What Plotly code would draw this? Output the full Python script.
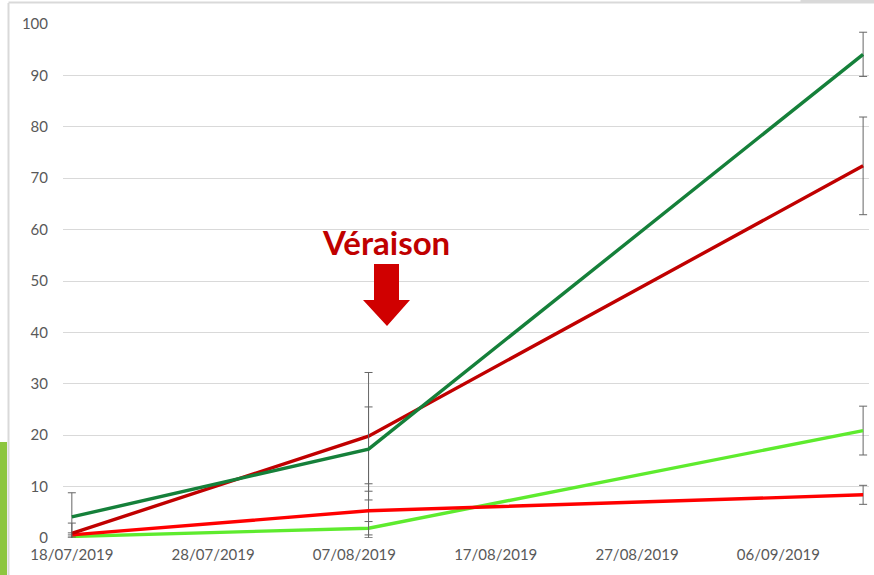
import plotly.graph_objects as go

W, H = 874, 575

dates = ["2019-07-18", "2019-08-08", "2019-09-12"]

dark_green = [4.1, 17.3, 94.1]
dark_green_err = [4.7, 8.2, 4.3]

dark_red = [0.9, 19.8, 72.4]
dark_red_err = [2.0, 12.4, 9.5]

light_green = [0.3, 1.9, 20.9]
light_green_err = [0.3, 1.3, 4.75]

red = [0.6, 5.3, 8.4]
red_err = [0.4, 5.25, 1.85]

tick_dates = ["2019-07-18", "2019-07-28", "2019-08-07", "2019-08-17", "2019-08-27", "2019-09-06"]
tick_text = ["18/07/2019", "28/07/2019", "07/08/2019", "17/08/2019", "27/08/2019", "06/09/2019"]


def px(x):
    return x / W


def py(y):
    return 1 - y / H


fig = go.Figure()

series = [
    (light_green, light_green_err, "#5EEB2E"),
    (red, red_err, "#FF0000"),
    (dark_red, dark_red_err, "#C00000"),
    (dark_green, dark_green_err, "#15803A"),
]
for vals, err, col in series:
    fig.add_trace(go.Scatter(
        x=dates, y=vals, mode="lines",
        line=dict(color=col, width=3.4),
        error_y=dict(type="data", array=err, visible=True,
                     color="#666666", thickness=1, width=4),
        showlegend=False,
    ))

# slide decorations: grey frame + green side bar
shapes = [
    dict(type="rect", xref="paper", yref="paper", x0=0, x1=px(7), y0=0, y1=py(442),
         fillcolor="#8DC63F", line_width=0, layer="below"),
    dict(type="line", xref="paper", yref="paper", x0=px(8.5), x1=px(8.5), y0=0, y1=py(3),
         line=dict(color="#D9D9D9", width=2)),
    dict(type="line", xref="paper", yref="paper", x0=px(8.5), x1=px(801), y0=py(2.5), y1=py(2.5),
         line=dict(color="#D9D9D9", width=2)),
    dict(type="line", xref="paper", yref="paper", x0=px(801), x1=px(801), y0=py(0), y1=py(3),
         line=dict(color="#D9D9D9", width=1)),
    dict(type="rect", xref="paper", yref="paper", x0=px(801), x1=1, y0=py(3.5), y1=1,
         fillcolor="#D9D9D9", line_width=0),
    # Véraison arrow
    dict(type="path", xref="paper", yref="paper",
         path=(f"M {px(374)} {py(264)} L {px(399)} {py(264)} L {px(399)} {py(300)} "
               f"L {px(410)} {py(300)} L {px(387)} {py(326)} L {px(363)} {py(300)} "
               f"L {px(374)} {py(300)} Z"),
         fillcolor="#D00000", line_width=0),
]

fig.update_layout(
    width=W, height=H,
    margin=dict(l=0, r=0, t=0, b=0),
    paper_bgcolor="white", plot_bgcolor="white",
    font=dict(family="Lato, 'Open Sans', sans-serif", size=15, color="#595959"),
    shapes=shapes,
    annotations=[dict(
        xref="paper", yref="paper", x=px(386), y=py(242),
        text="<b>Véraison</b>", showarrow=False,
        font=dict(size=33, color="#C00000", family="Lato, sans-serif"),
        xanchor="center", yanchor="middle",
    )],
    xaxis=dict(
        domain=[px(63), px(869)],
        range=["2019-07-17 09:00", "2019-09-12 10:00"],
        tickvals=tick_dates, ticktext=tick_text,
        showgrid=False, zeroline=False, showline=False,
        ticks="", ticklabelstandoff=6, automargin=False,
    ),
    yaxis=dict(
        domain=[py(538), py(24)],
        range=[0, 100], dtick=10,
        showgrid=True, gridcolor="#D9D9D9", gridwidth=1,
        zeroline=False, showline=False, ticks="",
        ticklabelstandoff=14, automargin=False,
    ),
)

fig.write_html(
    "out.html",
    config={"displayModeBar": False},
    post_script="document.body.style.margin='0';document.body.style.overflow='hidden';",
)
